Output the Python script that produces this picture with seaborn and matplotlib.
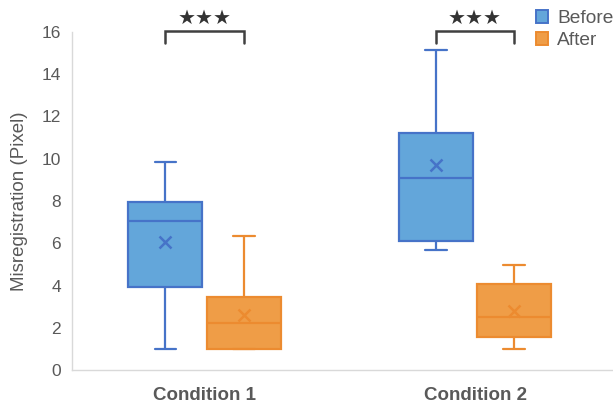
import numpy as np
import pandas as pd
import matplotlib
matplotlib.use("Agg")
import matplotlib.pyplot as plt
import matplotlib.patches as mpatches
import seaborn as sns

# Measured misregistration samples (pixels) for each condition and phase
conditions = ["Condition 1", "Condition 2"]
phases = ["Before", "After"]
before_c1 = [1.0, 2.6, 3.94, 5.9, 7.05, 7.5, 7.95, 8.9, 9.85]
after_c1 = [1.0, 1.0, 1.0, 1.8, 2.22, 2.9, 3.45, 3.8, 6.35]
before_c2 = [5.68, 6.1, 6.12, 8.9, 9.08, 11.1, 11.2, 14.15, 15.15]
after_c2 = [1.0, 1.3, 1.55, 2.2, 2.53, 3.3, 4.08, 4.25, 4.99]
significance = ["★★★", "★★★"]

samples = {
    ("Condition 1", "Before"): before_c1,
    ("Condition 1", "After"): after_c1,
    ("Condition 2", "Before"): before_c2,
    ("Condition 2", "After"): after_c2,
}
rows = [(c, p, v) for (c, p), vals in samples.items() for v in vals]
df = pd.DataFrame(rows, columns=["condition", "phase", "value"])

fill = {"Before": "#63A6DA", "After": "#EF9D47"}
edge = {"Before": "#4673C8", "After": "#EC8B30"}
text_gray = "#595959"

sns.set_style("white")
plt.rcParams["font.family"] = ["Liberation Sans", "DejaVu Sans"]

fig, ax = plt.subplots(figsize=(6.13, 4.04), dpi=100)
fig.subplots_adjust(left=0.1175, right=1.0, top=0.921, bottom=0.084)

width, gap = 0.58, 0.06
sns.boxplot(
    data=df, x="condition", y="value", hue="phase",
    order=conditions, hue_order=phases, palette=fill,
    width=width, gap=gap, whis=(0, 100), showfliers=False,
    showmeans=True, linewidth=1.6, legend=False, ax=ax,
    meanprops=dict(marker="x", markersize=8, markeredgewidth=1.8),
    capwidths=0.08,
)

# Outline colours per phase: boxes left of the category centre are "Before"
for patch in ax.patches:
    verts = patch.get_path().vertices
    xc = verts[:, 0].mean()
    ph = "Before" if xc - round(xc) < 0 else "After"
    patch.set_edgecolor(edge[ph])
    patch.set_facecolor(fill[ph])
for line in ax.lines:
    xd = np.asarray(line.get_xdata(), dtype=float)
    if xd.size == 0:
        continue
    xc = xd.mean()
    ph = "Before" if xc - round(xc) < 0 else "After"
    line.set_color(edge[ph])
    line.set_markeredgecolor(edge[ph])
    line.set_markerfacecolor(edge[ph])

ax.set_xlim(-0.49, 1.51)
ax.set_ylim(0, 16)
ax.set_yticks(range(0, 17, 2))
ax.set_xlabel("")
ax.set_ylabel("Misregistration (Pixel)", fontsize=13.5, color=text_gray, labelpad=10)
ax.tick_params(axis="y", length=0, labelsize=12.5, labelcolor=text_gray, pad=8)
ax.tick_params(axis="x", length=0, labelsize=13.5, labelcolor=text_gray, pad=12)
for lab in ax.get_xticklabels():
    lab.set_fontweight("bold")

for s in ["top", "right"]:
    ax.spines[s].set_visible(False)
for s in ["left", "bottom"]:
    ax.spines[s].set_color("#D9D9D9")
    ax.spines[s].set_linewidth(1.0)

# Significance brackets joining the Before and After boxes
off = width / 4
for i, stars in enumerate(significance):
    x0, x1 = i - off, i + off
    ax.plot([x0, x0, x1, x1], [15.48, 16.05, 16.05, 15.48],
            color="#404040", lw=1.8, clip_on=False, solid_joinstyle="miter")
    ax.text(i, 16.62, stars, ha="center", va="center", fontsize=14.5,
            color="#333333", family=["DejaVu Sans"], clip_on=False)

handles = [mpatches.Patch(facecolor=fill[p], edgecolor=edge[p], linewidth=1.4, label=p)
           for p in phases]
leg = fig.legend(handles=handles, loc="upper left", bbox_to_anchor=(0.874, 0.975),
                 frameon=False, fontsize=13.8, handlelength=0.64, handleheight=0.64,
                 handletextpad=0.48, labelspacing=0.26, borderpad=0, borderaxespad=0)
for t in leg.get_texts():
    t.set_color(text_gray)

fig.savefig("out.png", dpi=100)
